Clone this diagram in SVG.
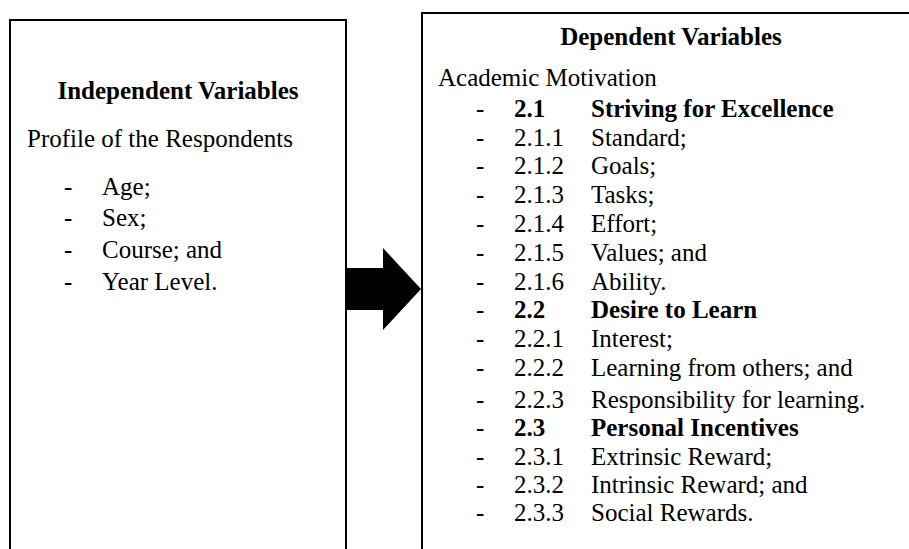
<svg xmlns="http://www.w3.org/2000/svg" width="909" height="549" viewBox="0 0 909 549" font-family="'Liberation Serif', 'DejaVu Serif', serif" font-size="25">
<style>
text { font-family: 'Liberation Serif', 'DejaVu Serif', serif; font-size: 25px; fill: #000; }
.b { font-weight: bold; }
.box { fill: #fff; stroke: #000; stroke-width: 2; }
</style>
<rect width="909" height="549" fill="#fff"/>
<g id="independent">
  <rect class="box" x="10" y="20" width="336" height="600"/>
  <text class="b" x="178" y="98.5" text-anchor="middle">Independent Variables</text>
  <text x="27" y="147">Profile of the Respondents</text>
  <text x="64" y="195">-</text><text x="102" y="195">Age;</text>
  <text x="64" y="226">-</text><text x="102" y="226">Sex;</text>
  <text x="64" y="258">-</text><text x="102" y="258">Course; and</text>
  <text x="64" y="290">-</text><text x="102" y="290">Year Level.</text>
</g>
<g id="dependent">
  <rect class="box" x="422" y="13" width="520" height="600"/>
  <text class="b" x="671" y="45" text-anchor="middle">Dependent Variables</text>
  <text x="438" y="86">Academic Motivation</text>
  <g>
    <text x="476" y="117">-</text><text class="b" x="514" y="117">2.1</text><text class="b" x="591" y="117">Striving for Excellence</text>
    <text x="476" y="146">-</text><text x="514" y="146">2.1.1</text><text x="591" y="146">Standard;</text>
    <text x="476" y="174">-</text><text x="514" y="174">2.1.2</text><text x="591" y="174">Goals;</text>
    <text x="476" y="203">-</text><text x="514" y="203">2.1.3</text><text x="591" y="203">Tasks;</text>
    <text x="476" y="232">-</text><text x="514" y="232">2.1.4</text><text x="591" y="232">Effort;</text>
    <text x="476" y="261">-</text><text x="514" y="261">2.1.5</text><text x="591" y="261">Values; and</text>
    <text x="476" y="290">-</text><text x="514" y="290">2.1.6</text><text x="591" y="290">Ability.</text>
    <text x="476" y="318">-</text><text class="b" x="514" y="318">2.2</text><text class="b" x="591" y="318">Desire to Learn</text>
    <text x="476" y="347">-</text><text x="514" y="347">2.2.1</text><text x="591" y="347">Interest;</text>
    <text x="476" y="376">-</text><text x="514" y="376">2.2.2</text><text x="591" y="376">Learning from others; and</text>
    <text x="476" y="408">-</text><text x="514" y="408">2.2.3</text><text x="591" y="408">Responsibility for learning.</text>
    <text x="476" y="436">-</text><text class="b" x="514" y="436">2.3</text><text class="b" x="591" y="436">Personal Incentives</text>
    <text x="476" y="465">-</text><text x="514" y="465">2.3.1</text><text x="591" y="465">Extrinsic Reward;</text>
    <text x="476" y="493">-</text><text x="514" y="493">2.3.2</text><text x="591" y="493">Intrinsic Reward; and</text>
    <text x="476" y="521">-</text><text x="514" y="521">2.3.3</text><text x="591" y="521">Social Rewards.</text>
  </g>
</g>
<g id="connectors">
  <polygon points="346,268 383,268 383,248 421,289 383,330 383,310 346,310" fill="#000"/>
</g>
</svg>
